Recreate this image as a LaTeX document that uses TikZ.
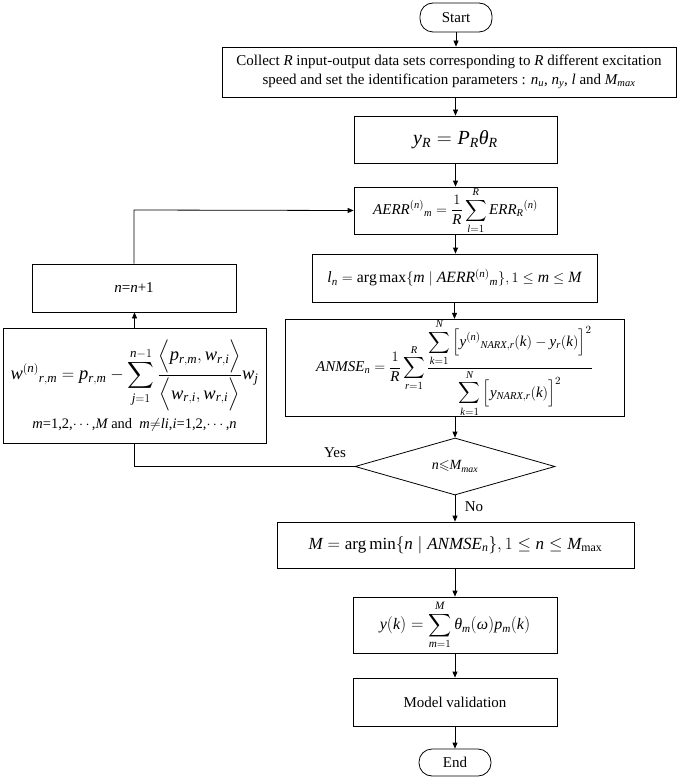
\documentclass[tikz,border=0pt]{standalone}
\usepackage{amsmath,amssymb}
\usepackage{fontspec}
\setmainfont{Liberation Serif}
\DeclareSymbolFont{tlet}{TU}{\rmdefault}{m}{it}
\newcount\lettcnt
\lettcnt=65
\loop \Umathcode\lettcnt = 7 \symtlet \lettcnt \advance\lettcnt 1 \ifnum\lettcnt<91 \repeat
\lettcnt=97
\loop \Umathcode\lettcnt = 7 \symtlet \lettcnt \advance\lettcnt 1 \ifnum\lettcnt<123 \repeat
\Umathchardef\theta = 0 \symtlet "03B8
\Umathchardef\omega = 0 \symtlet "03C9
\usetikzlibrary{shapes.geometric,arrows.meta}
\tikzset{
  box/.style={draw, line width=0.8pt, inner sep=0pt, align=center, font=\fontsize{15}{19}\selectfont},
  term/.style={box, rounded corners=13pt},
  dec/.style={box, diamond, aspect=3.5},
  arr/.style={-{Triangle[length=6pt,width=5pt]}, line width=0.8pt},
  ln/.style={line width=0.8pt},
  lbl/.style={font=\fontsize{15}{17}\selectfont, inner sep=0pt}
}
\begin{document}
\begin{tikzpicture}[x=1pt,y=-1pt]
\useasboundingbox (0,0) rectangle (685,778);
\node[term, minimum width=72pt, minimum height=29pt] (start) at (456,17.5) {Start};
\node[box, minimum width=454pt, minimum height=50pt] (collect) at (449,72)
  {Collect $R$ input-output data sets corresponding to $R$ different excitation\\ speed and set the identification parameters : $n_u$, $n_y$, $l$ and $M_{max}$};
\node[box, minimum width=203pt, minimum height=47pt, font=\fontsize{20}{22}\selectfont] (yr) at (455.5,139.5) {$y_R = P_R\theta_R$};
\node[box, minimum width=203pt, minimum height=47pt, font=\fontsize{15}{17}\selectfont] (aerr) at (455.5,210.5)
  {$\displaystyle AERR^{(n)}{}_m = \frac{1}{R}\sum_{l=1}^{R} ERR_R{}^{(n)}$};
\node[box, minimum width=285pt, minimum height=48pt, font=\fontsize{15.7}{18}\selectfont] (lmax) at (454.5,278)
  {$l_n = \arg\max\{m \mid AERR^{(n)}{}_m\}, 1\le m\le M$};
\node[box, minimum width=339pt, minimum height=94pt, font=\fontsize{15}{17}\selectfont] (anmse) at (454.5,368)
  {$\displaystyle ANMSE_n = \frac{1}{R}\sum_{r=1}^{R}\frac{\displaystyle\sum_{k=1}^{N}\Big[y^{(n)}{}_{NARX,r}(k)-y_r(k)\Big]^2}{\displaystyle\sum_{k=1}^{N}\Big[y_{NARX,r}(k)\Big]^2}$};
\node[dec, minimum width=200pt, minimum height=57pt, font=\fontsize{14}{17}\selectfont] (dia) at (455,466.5) {$n{\leqslant}M_{max}$};
\node[box, minimum width=357pt, minimum height=46pt, font=\fontsize{17}{19}\selectfont] (mmin) at (455.5,545)
  {$M = \arg\min\{n \mid ANMSE_n\}, 1\le n\le M_{\max}$};
\node[box, minimum width=204pt, minimum height=56pt, font=\fontsize{16}{18}\selectfont] (yk) at (455,625)
  {$\displaystyle y(k) = \sum_{m=1}^{M}\theta_m(\omega)p_m(k)$};
\node[box, minimum width=204pt, minimum height=48pt] (mv) at (455,702) {Model validation};
\node[term, minimum width=72pt, minimum height=27pt] (end) at (455,762.5) {End};
\node[box, minimum width=204pt, minimum height=48pt] (nn) at (134,288) {$n$=$n$+1};
\node[box, minimum width=263pt, minimum height=115pt, font=\fontsize{18.5}{21}\selectfont] (w) at (134.5,385.5)
  {$\displaystyle w^{(n)}{}_{r,m} = p_{r,m} - \sum_{j=1}^{n-1}\frac{\Big\langle p_{r,m},w_{r,i}\Big\rangle}{\Big\langle w_{r,i},w_{r,i}\Big\rangle}w_j$\\[6pt]
   {\fontsize{14.5}{16}\selectfont $m$=1,2,$\cdots$,$M$ and \ $m{\neq}li$,$i$=1,2,$\cdots$,$n$}};
\node[lbl] (yes) at (335,453) {Yes};
\node[lbl] (no) at (474,507) {No};
\draw[arr] (start.south) -- (start.south |- collect.north);
\draw[arr] (collect.south -| yr.north) -- (yr.north);
\draw[arr] (yr) -- (aerr);
\draw[arr] (aerr.south) -- (aerr.south |- lmax.north);
\draw[arr] (lmax.south -| anmse.north) -- (anmse.north);
\draw[arr] (anmse.south -| dia.north) -- (dia.north);
\draw[arr] (dia.south) -- (dia.south |- mmin.north);
\draw[arr] (mmin.south -| yk.north) -- (yk.north);
\draw[arr] (yk) -- (mv);
\draw[arr] (mv) -- (end);
\draw[ln] (dia.west) -| (w.south);
\draw[arr] (w.north) -- (w.north |- nn.south);
\coordinate (top) at (134,210);
\draw[arr] (nn.north -| top) -- (top) -- (aerr.west);
\end{tikzpicture}
\end{document}
